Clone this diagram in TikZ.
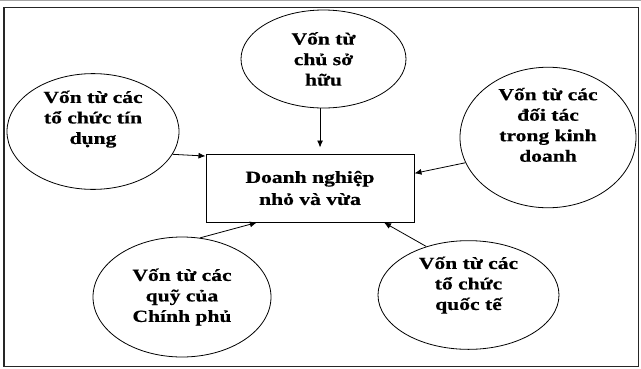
\documentclass[tikz,border=0pt]{standalone}
\usepackage{fontspec}
\setmainfont{Liberation Serif}[FakeStretch=1.27,FakeBold=0.6]
\usetikzlibrary{shapes.geometric,arrows.meta}

\tikzset{
  nguon/.style={ellipse,draw,line width=0.8pt,inner sep=0pt,align=center,
    font=\bfseries\fontsize{17}{20.5}\selectfont},
  dnbox/.style={rectangle,draw,line width=1pt,minimum width=208pt,minimum height=68pt,
    align=center,font=\bfseries\fontsize{17}{22}\selectfont},
  mui/.style={line width=0.8pt,-{Latex[length=7pt,width=6pt]}}
}

\begin{document}
\begin{tikzpicture}[x=1pt,y=-1pt]
\useasboundingbox (0,0) rectangle (641,368);

% khung ngoai
\draw[gray!70,line width=1.3pt] (0,0.6) -- (641,0.6);
\draw[line width=1.1pt,black!85] (4,7.5) rectangle (638.5,366.5);

\node[dnbox] (dn) at (310,188) {Doanh nghiệp\\nhỏ và vừa};

\node[nguon,minimum width=165pt,minimum height=98pt] (cso) at (323.5,59) {Vốn từ\\chủ sở\\hữu};
\node[nguon,minimum width=172pt,minimum height=114pt] (tindung) at (93,131.5) {Vốn từ các\\tổ chức tín\\dụng\\[8pt]};
\node[nguon,minimum width=176pt,minimum height=118pt] (doitac) at (548,137.5) {Vốn từ các\\đối tác\\trong kinh\\doanh\\[5pt]};
\node[nguon,minimum width=178pt,minimum height=120pt] (quy) at (182,297) {Vốn từ các\\quỹ của\\Chính phủ};
\node[nguon,minimum width=181pt,minimum height=104pt] (quocte) at (468.5,295) {Vốn từ các\\tổ chức\\quốc tế\\[3pt]};

% cac mui ten
\draw[mui,shorten >=6pt] (cso.-94) -- (cso.-94 |- dn.north);
\draw[mui] (tindung.-16) -- (dn.163);
\draw[mui] (doitac.197) -- (dn.8);
\draw[mui] (quy.73) -- (dn.213);
\draw[mui] (quocte.131) -- (dn.-25);

\end{tikzpicture}
\end{document}
